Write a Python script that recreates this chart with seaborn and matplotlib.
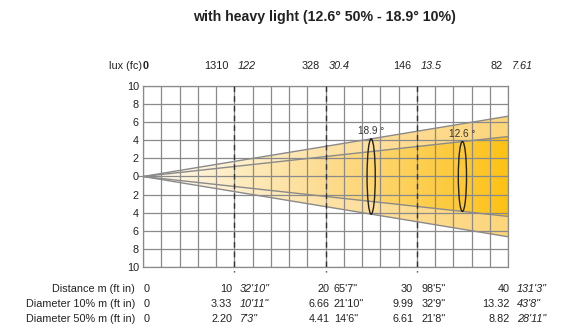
import numpy as np
import matplotlib
matplotlib.use("Agg")
import matplotlib.pyplot as plt
import seaborn as sns
from matplotlib.colors import LinearSegmentedColormap
from matplotlib.patches import Polygon, Ellipse

sns.set_style("white")
plt.rcParams['font.family'] = ['Liberation Sans', 'DejaVu Sans']

# photometric data
title = "with heavy light (12.6° 50% - 18.9° 10%)"
distance_m = [0, 10, 20, 30, 40]
distance_ft = ["", "32'10\"", "65'7\"", "98'5\"", "131'3\""]
lux = ["0", "1310", "328", "146", "82"]
fc = ["", "122", "30.4", "13.5", "7.61"]
diam10_m = [0, 3.33, 6.66, 9.99, 13.32]
diam10_ft = ["", "10'11\"", "21'10\"", "32'9\"", "43'8\""]
diam50_m = [0, 2.20, 4.41, 6.61, 8.82]
diam50_ft = ["", "7'3\"", "14'6\"", "21'8\"", "28'11\""]
beam_angles = [18.9, 12.6]
angle_marks = [25, 35]   # where the angle ellipses sit (m)
y_ticks = [-10, -8, -6, -4, -2, 0, 2, 4, 6, 8, 10]

fs = 7.8
txtc = '#222222'

fig = plt.figure(figsize=(5.66, 3.31), dpi=100)
ax = fig.add_axes([0.2527, 0.1934, 0.6449, 0.5468])
ax.set_xlim(0, 40)
ax.set_ylim(-10, 10)

gridc = '#8a8a8a'
ax.set_xticks(np.arange(0, 41, 2))
ax.set_xticklabels([])
ax.set_yticks(y_ticks)
ax.set_yticklabels([str(abs(v)) for v in y_ticks], fontsize=fs, color=txtc)
ax.tick_params(length=0, pad=3)
ax.grid(True, color=gridc, lw=0.9, zorder=3)
ax.set_axisbelow(False)
for s in ax.spines.values():
    s.set_color(gridc)
    s.set_linewidth(0.9)

# beam cones with horizontal gradient
xmax = distance_m[-1]
h10 = diam10_m[-1] / 2
h50 = diam50_m[-1] / 2
grad = np.linspace(0, 1, 256).reshape(1, -1)
outer_cmap = LinearSegmentedColormap.from_list('outer', ['#FFFDF6', '#FDE2A6', '#FDD57A'])
inner_cmap = LinearSegmentedColormap.from_list('inner', ['#FFFCF2', '#FDDC90', '#FDC215'])

outer = Polygon([[0, 0], [xmax, h10], [xmax, -h10]], closed=True, transform=ax.transData)
inner = Polygon([[0, 0], [xmax, h50], [xmax, -h50]], closed=True, transform=ax.transData)
im1 = ax.imshow(grad, cmap=outer_cmap, aspect='auto', extent=[0, xmax, -h10, h10], zorder=1)
im1.set_clip_path(outer)
im2 = ax.imshow(grad, cmap=inner_cmap, aspect='auto', extent=[0, xmax, -h50, h50], zorder=2)
im2.set_clip_path(inner)
ax.set_xlim(0, 40)
ax.set_ylim(-10, 10)

for h in [h10, h50]:
    sns.lineplot(x=[0, xmax], y=[0, h], ax=ax, color='#8a8a8a', lw=1, zorder=4)
    sns.lineplot(x=[0, xmax], y=[0, -h], ax=ax, color='#8a8a8a', lw=1, zorder=4)
ax.plot([-0.5, 0], [0, 0], color=gridc, lw=0.9, clip_on=False)

# dashed distance markers
for d in distance_m[1:-1]:
    ax.plot([d, d], [10, -10.6], color='#333333', lw=1, ls=(0, (4, 3)), zorder=5, clip_on=False)

# angle ellipses
for ang, xm in zip(beam_angles, angle_marks):
    hh = 2 * xm * np.tan(np.radians(ang / 2))
    ax.add_patch(Ellipse((xm, 0), 0.9, hh, fill=False, ec=txtc, lw=1, zorder=6))
    ax.text(xm, hh / 2 + 0.3, f"{ang} °", ha='center', va='bottom', fontsize=7.2, color='#333333', zorder=6)

fig.text(0.573, 0.948, title, ha='center', va='center', fontsize=10.2, fontweight='bold', color=txtc)

# top lux / fc row
ty = 12.2
ax.text(-0.1, ty, "lux (fc)", ha='right', va='center', fontsize=fs, color=txtc, clip_on=False)
ax.text(0, ty, lux[0], ha='left', va='center', fontsize=fs, fontweight='bold', color=txtc, clip_on=False)
for d, l, f in zip(distance_m[1:], lux[1:], fc[1:]):
    ax.text(d - 0.6, ty, l, ha='right', va='center', fontsize=fs, color=txtc, clip_on=False)
    ax.text(d + 0.4, ty, f, ha='left', va='center', fontsize=fs, style='italic', color=txtc, clip_on=False)

# bottom table rows
rows = [("Distance m (ft in)", [str(v) for v in distance_m], distance_ft),
        ("Diameter 10% m (ft in)", [f"{v:.2f}" if v else "0" for v in diam10_m], diam10_ft),
        ("Diameter 50% m (ft in)", [f"{v:.2f}" if v else "0" for v in diam50_m], diam50_ft)]
row_y = [-12.43, -14.09, -15.75]
left_end = [None, 9.75, 20.45, 29.6, 40.2]
right_start = [None, 10.6, 20.9, 30.55, 41.0]
italic_cols = [False, True, False, False, True]
for (label, vals, fts), y in zip(rows, row_y):
    ax.text(-0.9, y, label, ha='right', va='center', fontsize=fs, color=txtc, clip_on=False)
    ax.text(0.4, y, vals[0], ha='center', va='center', fontsize=fs, color=txtc, clip_on=False)
    for i in range(1, len(vals)):
        ax.text(left_end[i], y, vals[i], ha='right', va='center', fontsize=fs, color=txtc, clip_on=False)
        ax.text(right_start[i], y, fts[i], ha='left', va='center', fontsize=fs,
                style='italic' if italic_cols[i] else 'normal', color=txtc, clip_on=False)

fig.savefig("out.png", dpi=100)
